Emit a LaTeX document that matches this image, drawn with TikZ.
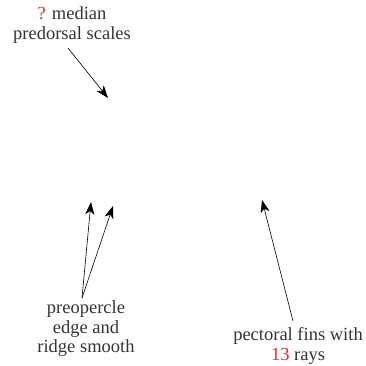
\documentclass[tikz,border=0pt]{standalone}
\usepackage{fontspec}
\setmainfont{Liberation Serif}
\usepackage{xcolor}
\usetikzlibrary{arrows.meta}
\definecolor{qred}{RGB}{222,45,45}

\begin{document}
\begin{tikzpicture}[x=1pt, y=-1pt,
  lbl/.style={align=center,inner sep=0pt,font=\fontsize{18.5}{19.5}\selectfont,text=black!80},
  arr/.style={-{Stealth[length=12.5pt,width=9pt,inset=3.5pt]},semithick}]
\useasboundingbox (0,0) rectangle (366,365);
\node[lbl] (scales) at (72,25) {\textcolor{qred}{?} median\\predorsal scales};
\node[lbl] (preop) at (86,329) {preopercle\\edge and\\ridge smooth};
\node[lbl] (fins) at (298,346) {pectoral fins with\\\textcolor{qred}{13} rays};
\coordinate (s0) at (68,48); \coordinate (s1) at (108,98);
\coordinate (p0) at (82,298); \coordinate (p1) at (91,202); \coordinate (p2) at (113,206);
\coordinate (f0) at (293,321); \coordinate (f1) at (262,200);
\draw[arr] (s0)--(s1);
\draw[arr] (p0)--(p1); \draw[arr] (p0)--(p2);
\draw[arr] (f0)--(f1);
\end{tikzpicture}
\end{document}
